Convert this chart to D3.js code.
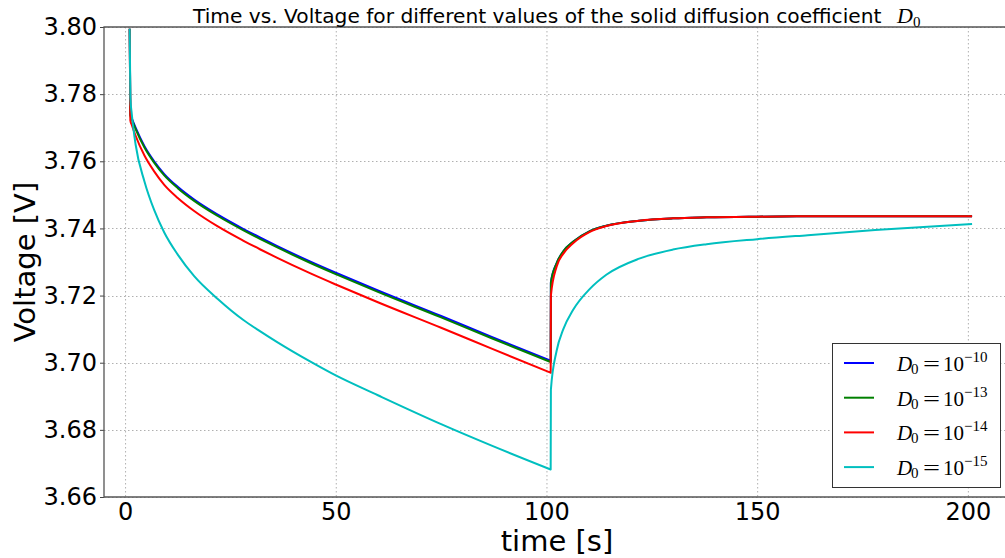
<!DOCTYPE html>
<html>
<head>
<meta charset="utf-8">
<script src="https://cdn.jsdelivr.net/npm/d3@7"></script>
<style>
  body { margin: 0; background: #fff; }
  svg { display: block; font-family: 'DejaVu Sans', sans-serif; }
</style>
</head>
<body>
<svg></svg>
<script>
// time points [s] and voltages [V]
const tDischarge = [1.1, 1.25, 1.6, 2.5, 4.6, 6.9, 9.3, 12.5, 16.4, 22, 28, 32, 36, 44, 50, 60, 75, 87, 101]
const tRelax = [101.05, 102.4, 104, 106.3, 110.3, 114.2, 122, 130, 138, 150, 162, 178, 201]

const vBlue = [3.7995, 3.7740, 3.7728, 3.7700, 3.7645, 3.7600, 3.7562, 3.7524, 3.7486, 3.7441, 3.7399, 3.7373, 3.7348, 3.7301, 3.7268, 3.7215, 3.7139, 3.7077, 3.7006,
  3.7240, 3.7296, 3.7332, 3.7360, 3.7392, 3.7408, 3.7423, 3.7430, 3.7433, 3.7435, 3.7436, 3.7436, 3.7436]
const vGreen = [3.7995, 3.7736, 3.7724, 3.7696, 3.7641, 3.7596, 3.7558, 3.7520, 3.7482, 3.7437, 3.7395, 3.7369, 3.7344, 3.7297, 3.7264, 3.7211, 3.7135, 3.7073, 3.7002,
  3.7238, 3.7296, 3.7332, 3.7360, 3.7392, 3.7408, 3.7423, 3.7430, 3.7433, 3.7435, 3.7436, 3.7436, 3.7436]
const vRed = [3.7995, 3.7722, 3.7708, 3.7676, 3.7617, 3.7570, 3.7530, 3.7491, 3.7452, 3.7406, 3.7364, 3.7338, 3.7313, 3.7266, 3.7233, 3.7180, 3.7104, 3.7042, 3.6970,
  3.7200, 3.7286, 3.7325, 3.7356, 3.7390, 3.7407, 3.7423, 3.7430, 3.7433, 3.7435, 3.7436, 3.7436, 3.7436]
const vCyan = [3.7995, 3.7790, 3.7740, 3.7650, 3.7540, 3.7455, 3.7388, 3.7322, 3.7258, 3.7190, 3.7128, 3.7094, 3.7062, 3.7003, 3.6962, 3.6903, 3.6817, 3.6753, 3.6682,
  3.6920, 3.7035, 3.7100, 3.7157, 3.7220, 3.7262, 3.7310, 3.7337, 3.7353, 3.7368, 3.7380, 3.7395, 3.7413]

const seriesNames = ['-10', '-13', '-14', '-15']
const seriesColors = ['#0000ff', '#008000', '#ff0000', '#00bfbf']
const seriesValues = [vBlue, vGreen, vRed, vCyan]

const xTicks = [0, 50, 100, 150, 200]
const yTicks = [3.66, 3.68, 3.70, 3.72, 3.74, 3.76, 3.78, 3.80]

const width = 1005
const height = 558
const margin = { top: 27, left: 104, bottom: 497, right: 1010 }

const times = tDischarge.concat(tRelax)
const nDis = tDischarge.length

const x = d3.scaleLinear().domain([-5, 210]).range([margin.left, margin.right])
const y = d3.scaleLinear().domain([3.66, 3.80]).range([margin.bottom, margin.top])

const svg = d3.select('svg')
  .attr('width', width)
  .attr('height', height)

svg.append('defs').append('clipPath').attr('id', 'plot')
  .append('rect')
  .attr('x', margin.left).attr('y', margin.top)
  .attr('width', margin.right - margin.left).attr('height', margin.bottom - margin.top)

// grid
const grid = svg.append('g')
  .attr('stroke', '#b0b0b0')
  .attr('stroke-width', 1)
  .attr('stroke-dasharray', '1.5,2.5')
grid.selectAll('.gx').data(xTicks).enter().append('line')
  .attr('x1', d => x(d) + 0.5).attr('x2', d => x(d) + 0.5)
  .attr('y1', margin.top).attr('y2', margin.bottom)
grid.selectAll('.gy').data(yTicks).enter().append('line')
  .attr('y1', d => Math.round(y(d)) + 0.5).attr('y2', d => Math.round(y(d)) + 0.5)
  .attr('x1', margin.left).attr('x2', margin.right)

// curves: discharge part, then the relaxation part (starting from the last discharge point)
const line = d3.line()
  .x(d => x(d[0]))
  .y(d => y(d[1]))
  .curve(d3.curveMonotoneX)

function seriesPath (vals) {
  const pts = times.map((t, i) => [t, vals[i]])
  const dis = pts.slice(0, nDis)
  const rel = pts.slice(nDis - 1)
  return line(dis) + line(rel).replace(/^M/, 'L')
}

svg.append('g')
  .attr('clip-path', 'url(#plot)')
  .selectAll('path')
  .data(seriesValues)
  .enter().append('path')
  .attr('d', d => seriesPath(d))
  .attr('fill', 'none')
  .attr('stroke', (d, i) => seriesColors[i])
  .attr('stroke-width', 2)
  .attr('stroke-linejoin', 'round')

// axes
const xAxis = svg.append('g')
  .attr('transform', `translate(0,${margin.bottom})`)
  .call(d3.axisBottom(x).tickValues(xTicks).tickSize(0).tickPadding(6))
xAxis.select('.domain').remove()
xAxis.selectAll('text').attr('font-size', 24).attr('fill', '#000')
  .attr('font-family', 'DejaVu Sans')

const yAxis = svg.append('g')
  .attr('transform', `translate(${margin.left},0)`)
  .call(d3.axisLeft(y).tickValues(yTicks).tickFormat(d3.format('.2f')).tickSize(4).tickPadding(3))
yAxis.select('.domain').remove()
yAxis.selectAll('.tick line').attr('stroke', '#444')
yAxis.selectAll('text').attr('font-size', 24).attr('fill', '#000')
  .attr('font-family', 'DejaVu Sans')

// frame
svg.append('path')
  .attr('d', `M${margin.right},${margin.top}H${margin.left}V${margin.bottom}H${margin.right}`)
  .attr('fill', 'none')
  .attr('stroke', '#555')
  .attr('stroke-width', 1.3)

// title
const title = svg.append('text')
  .attr('x', 193)
  .attr('y', 23)
  .attr('font-size', 20.2)
title.append('tspan').text('Time vs. Voltage for different values of the solid diffusion coefficient')
title.append('tspan').attr('x', 897).attr('font-family', 'Liberation Serif').attr('font-style', 'italic')
  .attr('font-size', 22).text('D')
title.append('tspan').attr('font-family', 'Liberation Serif').attr('font-size', 15)
  .attr('dy', 4).text('0')

svg.append('text')
  .attr('x', (margin.left + margin.right) / 2)
  .attr('y', 551)
  .attr('text-anchor', 'middle')
  .attr('font-size', 29)
  .text('time [s]')

svg.append('text')
  .attr('transform', `translate(35,${(margin.top + margin.bottom) / 2}) rotate(-90)`)
  .attr('text-anchor', 'middle')
  .attr('font-size', 29)
  .text('Voltage [V]')

// legend
const legend = svg.append('g')
legend.append('rect')
  .attr('x', 832.5).attr('y', 343.5)
  .attr('width', 168).attr('height', 144)
  .attr('fill', '#fff')
  .attr('stroke', '#333')
  .attr('stroke-width', 1)

const rows = legend.selectAll('.row').data(seriesNames).enter().append('g')
  .attr('transform', (d, i) => `translate(0,${363 + i * 34.7})`)
rows.append('line')
  .attr('x1', 844).attr('x2', 874)
  .attr('stroke', (d, i) => seriesColors[i])
  .attr('stroke-width', 2)
const label = rows.append('text')
  .attr('font-family', 'Liberation Serif')
  .attr('font-size', 21)
label.append('tspan').attr('x', 897).attr('y', 8).attr('font-style', 'italic').text('D')
label.append('tspan').attr('x', 911).attr('y', 11).attr('font-size', 15).text('0')
label.append('tspan').attr('x', 923).attr('y', 8)
  .attr('textLength', 17).attr('lengthAdjust', 'spacingAndGlyphs').text('=')
label.append('tspan').attr('x', 943).attr('y', 8).text('10')
label.append('tspan').attr('x', 964).attr('y', -1).attr('font-size', 15).text(d => d.replace('-', '\u2212'))
</script>
</body>
</html>
